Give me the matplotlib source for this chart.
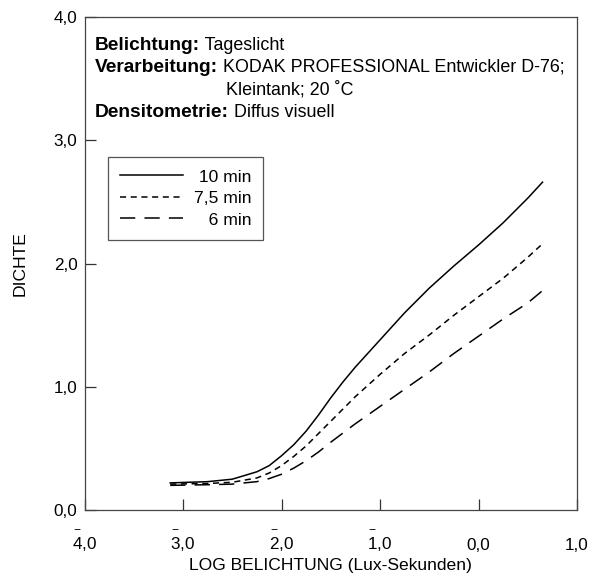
import matplotlib
matplotlib.use("Agg")
import matplotlib.pyplot as plt

plt.rcParams["font.family"] = ["Liberation Sans", "DejaVu Sans"]
plt.rcParams["mathtext.fontset"] = "custom"
plt.rcParams["mathtext.rm"] = "Liberation Sans"
plt.rcParams["mathtext.it"] = "Liberation Sans"
plt.rcParams["mathtext.bf"] = "Liberation Sans:bold"

# log H (lux-seconds) vs. density, three development times
log_h = [-3.13, -2.75, -2.5, -2.25, -2.125, -2.0, -1.875, -1.75, -1.625,
         -1.5, -1.375, -1.25, -1.125, -1.0, -0.75, -0.5, -0.25, 0.0,
         0.25, 0.5, 0.65]
d_10min = [0.22, 0.23, 0.25, 0.31, 0.36, 0.44, 0.53, 0.64, 0.77,
           0.91, 1.04, 1.16, 1.27, 1.38, 1.60, 1.80, 1.98, 2.15,
           2.33, 2.53, 2.66]
d_75min = [0.21, 0.215, 0.225, 0.26, 0.30, 0.36, 0.435, 0.52, 0.62,
           0.72, 0.82, 0.92, 1.01, 1.10, 1.27, 1.42, 1.58, 1.73,
           1.88, 2.05, 2.16]
d_6min = [0.20, 0.205, 0.21, 0.23, 0.255, 0.29, 0.34, 0.40, 0.47,
          0.55, 0.625, 0.70, 0.77, 0.84, 0.98, 1.12, 1.27, 1.41,
          1.55, 1.68, 1.78]
labels = [" 10 min", "7,5 min", "   6 min"]

x_ticks = [-4, -3, -2, -1, 0, 1]
x_ticklabels = [r"$\overset{-}{4}$,0", r"$\overset{-}{3}$,0",
                r"$\overset{-}{2}$,0", r"$\overset{-}{1}$,0", "0,0", "1,0"]
y_ticks = [0, 1, 2, 3, 4]
y_ticklabels = ["0,0", "1,0", "2,0", "3,0", "4,0"]

FS = 12.6
fig = plt.figure(figsize=(5.92, 5.77), dpi=100)
ax = fig.add_axes([84.5 / 592, 67 / 577, 492.5 / 592, 493 / 577])

ax.plot(log_h, d_10min, color="black", lw=1.1, label=labels[0])
ax.plot(log_h, d_75min, color="black", lw=1.1, ls=(0, (4, 3)), label=labels[1])
ax.plot(log_h, d_6min, color="black", lw=1.1, ls=(0, (10, 6)), label=labels[2])

ax.set_xlim(-4, 1)
ax.set_ylim(0, 4)
ax.set_xticks(x_ticks)
ax.set_xticklabels(x_ticklabels)
ax.set_yticks(y_ticks)
ax.set_yticklabels(y_ticklabels)
ax.tick_params(direction="in", length=8, width=0.9, color="#333333",
               labelsize=12.3)
# barred and plain labels share one baseline
ax.tick_params(axis="x", pad=28.5)
for lbl in ax.get_xticklabels():
    lbl.set_verticalalignment("baseline")
ax.tick_params(axis="y", pad=5)
for sp in ax.spines.values():
    sp.set_color("#444444")
    sp.set_linewidth(0.9)

ax.set_xlabel("LOG BELICHTUNG (Lux-Sekunden)", fontsize=FS, labelpad=3)
ax.set_ylabel("DICHTE", fontsize=FS, labelpad=19)

# processing notes: bold heading followed by plain text
notes = [("Belichtung:", " Tageslicht", 0.933),
         ("Verarbeitung:", " KODAK PROFESSIONAL Entwickler D-76;", 0.889),
         ("Densitometrie:", " Diffus visuell", 0.798)]
for head, body, yy in notes:
    t = ax.text(0.0213, yy, head, transform=ax.transAxes, fontsize=13.8,
                fontweight="bold", va="baseline", ha="left")
    ax.annotate(body, xy=(1, 0), xycoords=t, fontsize=12.9,
                va="bottom", ha="left")
ax.text(0.2873, 0.842, "Kleintank; 20 \u02daC", transform=ax.transAxes,
        fontsize=12.9, va="baseline", ha="left")

leg = ax.legend(loc="upper left", bbox_to_anchor=(0.0477, 0.716),
                fontsize=FS, handlelength=3.6, handletextpad=0.6,
                labelspacing=0.36, borderpad=0.7, fancybox=False,
                framealpha=1, borderaxespad=0)
leg.get_frame().set_edgecolor("#555555")
leg.get_frame().set_linewidth(0.9)

fig.savefig("out.png", dpi=100)
